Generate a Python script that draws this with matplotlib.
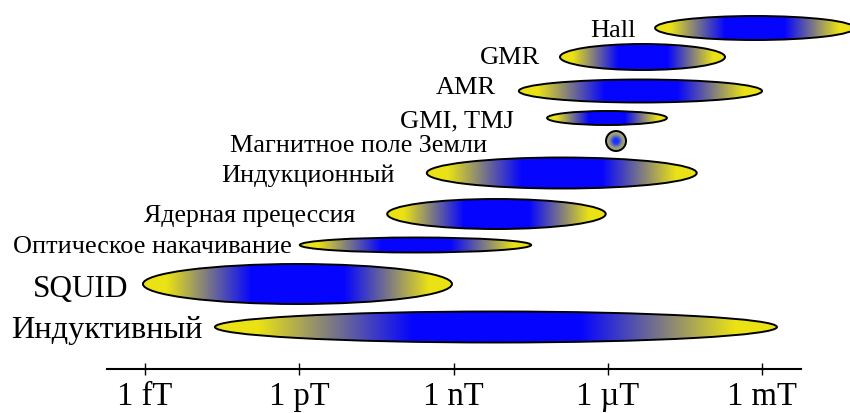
#!/usr/bin/env python3
import numpy as np
import matplotlib
matplotlib.use("Agg")
import matplotlib.pyplot as plt
from matplotlib.patches import Ellipse

# sensor ranges, log10 of field in tesla
names = ['Hall', 'GMR', 'AMR', 'GMI, TMJ', 'Индукционный',
         'Ядерная прецессия', 'Оптическое накачивание', 'SQUID', 'Индуктивный']
low = [-5.08, -6.93, -7.73, -7.18, -9.52, -10.29, -11.99, -15.04, -13.64]
high = [-1.20, -3.72, -3.00, -4.85, -4.27, -6.04, -7.49, -9.03, -2.71]
earth_name = 'Магнитное поле Земли'
earth_field = -5.84

tick_pos = [-15, -12, -9, -6, -3]
tick_labels = ['1 fT', '1 pT', '1 nT', '1 µT', '1 mT']

# layout in pixels (from top)
W, H = 850, 414
row_y = [29, 58, 92, 119, 174, 215, 246, 285, 328]
row_hh = [12, 13, 11.5, 7, 15.5, 15, 7.5, 20, 15.5]
label_x = [636, 540, 496, 514, 395, 355, 292, 128, 202]
label_base = [37, 64, 94, 127, 182, 222, 253, 297, 338]
label_size = [19, 19, 19, 19, 18.8, 18.6, 18.9, 22.5, 23.3]
earth_y, earth_r = 142, 10
earth_label = (487, 152)

px_per_dec = 51.42
x0 = -15 - 145 / px_per_dec
x1 = x0 + W / px_per_dec

YELLOW = np.array([0.92, 0.89, 0.08])
BLUE = np.array([0.02, 0.02, 1.0])

plt.rcParams['font.family'] = ['Liberation Serif', 'DejaVu Serif']

fig = plt.figure(figsize=(W / 100, H / 100), dpi=100)
ax = fig.add_axes([0, 0, 1, 1])


def gradient_row(n=400):
    t = np.abs(np.linspace(-1, 1, n))
    f = np.clip((t - 0.3) / 0.55, 0, 1)[:, None]
    return (BLUE * (1 - f) + YELLOW * f)[None, :, :]


for lo, hi, yc, hh in zip(low, high, row_y, row_hh):
    el = Ellipse(((lo + hi) / 2, yc), hi - lo, 2 * hh,
                 facecolor='none', edgecolor='black', lw=1.4, zorder=3)
    ax.add_patch(el)
    im = ax.imshow(gradient_row(), extent=(lo, hi, yc + hh, yc - hh),
                   aspect='auto', interpolation='bilinear', zorder=2)
    im.set_clip_path(el)

# Earth field dot with radial gradient
rw = earth_r / px_per_dec
n = 60
gx, gy = np.meshgrid(np.linspace(-1, 1, n), np.linspace(-1, 1, n))
r = np.sqrt(gx ** 2 + gy ** 2)
f = np.clip((r - 0.25) / 0.45, 0, 1)[:, :, None]
ring = np.array([0.62, 0.62, 0.48])
img = np.array([0.1, 0.2, 1.0]) * (1 - f) + ring * f
dot = Ellipse((earth_field, earth_y), 2 * rw, 2 * earth_r,
              facecolor='none', edgecolor='black', lw=1.4, zorder=3)
ax.add_patch(dot)
im = ax.imshow(img, extent=(earth_field - rw, earth_field + rw,
                            earth_y + earth_r, earth_y - earth_r),
               aspect='auto', interpolation='bilinear', zorder=2)
im.set_clip_path(dot)

for name, lx, ly, fs in zip(names, label_x, label_base, label_size):
    fig.text(lx / W, 1 - ly / H, name, ha='right', va='baseline', fontsize=fs)
fig.text(earth_label[0] / W, 1 - earth_label[1] / H, earth_name,
         ha='right', va='baseline', fontsize=18.8)

ax.set_xlim(x0, x1)
ax.set_ylim(H, 0)
ax.set_aspect('auto')
for s in ['top', 'left', 'right']:
    ax.spines[s].set_visible(False)
ax.spines['bottom'].set_position(('data', 370))
ax.spines['bottom'].set_bounds(-15.74, -2.245)
ax.spines['bottom'].set_linewidth(1.5)
ax.set_yticks([])
ax.set_xticks(tick_pos, tick_labels)
ax.tick_params(axis='x', direction='inout', length=8, width=1, pad=4,
               labelsize=23.5)
ax.patch.set_visible(False)

fig.savefig('out.png', dpi=100)
